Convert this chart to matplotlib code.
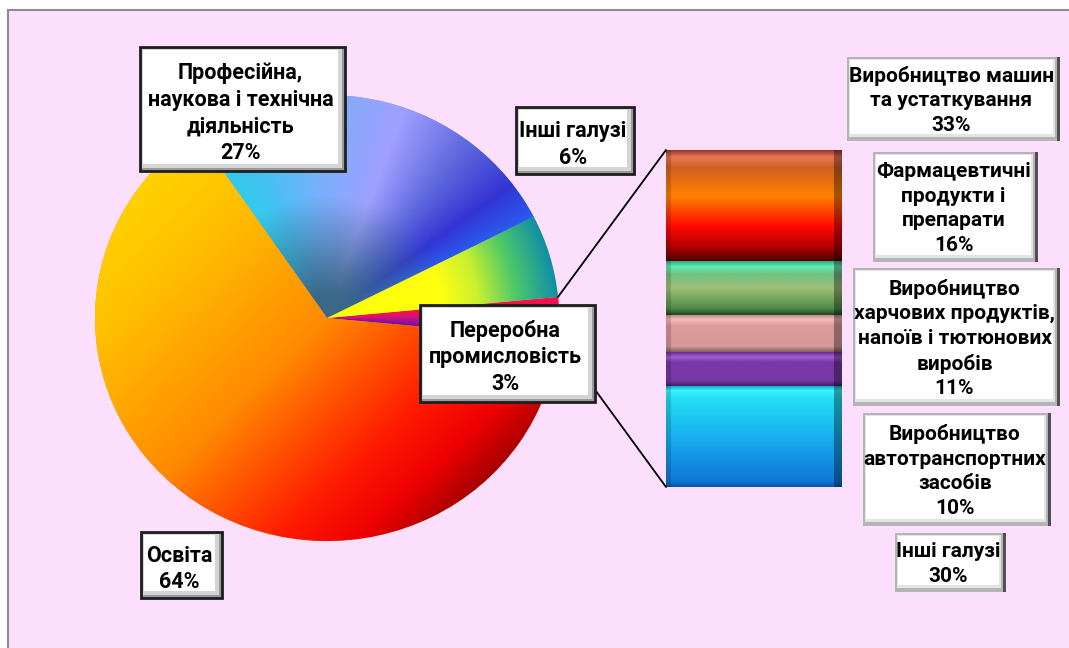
import numpy as np
import matplotlib
matplotlib.use("Agg")
import matplotlib.pyplot as plt
from matplotlib.colors import LinearSegmentedColormap, to_rgb
from matplotlib.patches import Rectangle, ConnectionPatch

plt.rcParams['font.family'] = ['Roboto', 'DejaVu Sans']

# ---------------- data ----------------
main_labels = ["Переробна\nпромисловість", "Інші галузі", "Професійна,\nнаукова і технічна\nдіяльність", "Освіта"]
main_values = [3, 6, 27, 64]

bar_labels = ["Інші галузі", "Виробництво\nавтотранспортних\nзасобів",
              "Виробництво\nхарчових продуктів,\nнапоїв і тютюнових\nвиробів",
              "Фармацевтичні\nпродукти і\nпрепарати", "Виробництво машин\nта устаткування"]
bar_values = [30, 10, 11, 16, 33]

W, H = 1069, 648
fig = plt.figure(figsize=(W / 100, H / 100), dpi=100)
fig.patch.set_facecolor("white")

# background frame
bg = fig.add_axes([0, 0, 1, 1], zorder=-1)
bg.set_xlim(0, W); bg.set_ylim(H, 0); bg.axis("off")
bg.add_patch(Rectangle((8, 10), W, H, facecolor="#FCDFFC", edgecolor="#8c8c8c", lw=1.5))


def pix_axes(x0, y0, x1, y1, z):
    return fig.add_axes([x0 / W, (H - y1) / H, (x1 - x0) / W, (y1 - y0) / H], zorder=z)


def shade(ax, patch, stops, tfunc, extent, zorder, dark=None):
    xs = np.linspace(extent[0], extent[1], 400)
    ys = np.linspace(extent[2], extent[3], 400)
    X, Y = np.meshgrid(xs, ys)
    T = np.clip(tfunc(X, Y), 0, 1)
    cmap = LinearSegmentedColormap.from_list("c", stops)
    rgb = cmap(T)[..., :3]
    if dark is not None:
        dcol, dfunc = dark
        m = np.clip(dfunc(X, Y), 0, 1)[..., None]
        rgb = rgb * m + np.array(to_rgb(dcol)) * (1 - m)
    im = ax.imshow(rgb, extent=extent, origin="lower", aspect="auto",
                   interpolation="bilinear", zorder=zorder)
    im.set_clip_path(patch)
    return im


# ---------------- pie ----------------
cx, cy, rx, ry = 327, 318, 232, 223
axp = pix_axes(cx - rx, cy - ry, cx + rx, cy + ry, 1)
start = -main_values[0] * 360 / sum(main_values) / 2
wedges, _ = axp.pie(main_values, startangle=start, counterclock=True, radius=1,
                    colors=["#C01090", "#C8F030", "#7A90F0", "#FF8A00"],
                    wedgeprops=dict(linewidth=0))
axp.set_aspect("auto")
axp.set_xlim(-1, 1); axp.set_ylim(-1, 1)
axp.axis("off")
ext = (-1, 1, -1, 1)


def ang(X, Y):
    return np.degrees(np.arctan2(Y, X))


def ang360(X, Y):
    return np.mod(np.degrees(np.arctan2(Y, X)), 360)


# other slice
w0 = wedges[0]
shade(axp, w0, [(0, "#FF1040"), (0.45, "#D01080"), (1, "#6E10A8")],
      lambda X, Y: (w0.theta2 - ang(X, Y)) / (w0.theta2 - w0.theta1), ext, 2)
# other industries
shade(axp, wedges[1], [(0, "#FFFF00"), (0.5, "#FFFF10"), (0.66, "#C8F030"), (0.82, "#50C868"), (1, "#1090A8")],
      lambda X, Y: np.hypot(X, Y), ext, 2)
# professional
w2 = wedges[2]
shade(axp, w2, [(0, "#30CCEC"), (0.12, "#48C0F4"), (0.32, "#78B0FC"), (0.55, "#A0A0FF"),
                (0.75, "#5C66DC"), (0.9, "#3434D4"), (1, "#2A5AEC")],
      lambda X, Y: (w2.theta2 - ang360(X, Y)) / (w2.theta2 - w2.theta1), ext, 2,
      dark=("#3A6888", lambda X, Y: (np.hypot(X, Y) - 0.1) / 0.45))
# education
shade(axp, wedges[3], [(0, "#FFD200"), (0.18, "#FFC000"), (0.5, "#FF8A00"), (0.78, "#FF1A00"),
                       (0.9, "#F00000"), (1, "#A80000")],
      lambda X, Y: ((X - Y) / np.sqrt(2) + 1) / 2, ext, 2)

# ---------------- bar ----------------
axb = pix_axes(666, 150, 842, 487, 1)
bar_stops = [
    [(0, "#0858A8"), (0.06, "#1078D8"), (0.5, "#18B0F0"), (0.85, "#22DCF2"), (0.95, "#38F4FF"), (1, "#1098C8")],
    [(0, "#402060"), (0.15, "#7838A8"), (0.7, "#7838A8"), (0.85, "#A060D0"), (1, "#6A2C98")],
    [(0, "#806060"), (0.15, "#D89898"), (0.7, "#DC9C9C"), (0.86, "#F4BCBC"), (1, "#B88080")],
    [(0, "#1E4A1E"), (0.12, "#508C48"), (0.5, "#A0C078"), (0.75, "#70C080"), (0.9, "#64ECB4"), (1, "#28B078")],
    [(0, "#500000"), (0.12, "#B00000"), (0.3, "#FF0800"), (0.58, "#FF8000"), (0.84, "#D06020"),
     (0.93, "#E87858"), (1, "#8C3020")],
]
bottoms = np.concatenate([[0], np.cumsum(bar_values)[:-1]])
bars = axb.bar([0.5] * len(bar_values), bar_values, width=1, bottom=bottoms,
               color="#888888", edgecolor="#301818", linewidth=0.8)
for b, v, bt, st in zip(bars, bar_values, bottoms, bar_stops):
    shade(axb, b, st, lambda X, Y, bt=bt, v=v: (Y - bt) / v, (0, 1, bt, bt + v), 2)
    axb.add_patch(Rectangle((0.955, bt), 0.045, v, facecolor="black", alpha=0.35, lw=0, zorder=3))
    axb.add_patch(Rectangle((0, bt), 0.03, v, facecolor="black", alpha=0.15, lw=0, zorder=3))
axb.set_xlim(0, 1); axb.set_ylim(0, sum(bar_values))
axb.axis("off")

# ---------------- connectors ----------------
for th, yb in [(w0.theta2, sum(bar_values)), (w0.theta1, 0)]:
    p = (np.cos(np.radians(th)), np.sin(np.radians(th)))
    con = ConnectionPatch(xyA=p, coordsA=axp.transData, xyB=(0, yb), coordsB=axb.transData,
                          color="black", lw=1.3, zorder=3)
    fig.add_artist(con)

# ---------------- labels ----------------
ov = fig.add_axes([0, 0, 1, 1], zorder=5)
ov.set_xlim(0, W); ov.set_ylim(H, 0); ov.axis("off")
ov.patch.set_alpha(0)


def label_box(x0, y0, x1, y1, text, dark=True, fs=16, ls=1.16, dy=0):
    w, h = x1 - x0, y1 - y0
    if dark:
        ov.add_patch(Rectangle((x0, y0), w, h, facecolor="#9a9a9a", edgecolor="#1e1e1e", lw=2))
        ov.add_patch(Rectangle((x0 + 2, y0 + 2), w - 5, h - 5, facecolor="#d4d4d4", lw=0))
        ov.add_patch(Rectangle((x0 + 3, y0 + 3), w - 10, h - 10, facecolor="white", lw=0))
    else:
        ov.add_patch(Rectangle((x0, y0), w, h, facecolor="#b4b4b4", lw=0))
        ov.add_patch(Rectangle((x1 - 3, y0), 3, h, facecolor="#505050", lw=0))
        ov.add_patch(Rectangle((x0 + 2, y0 + 2), w - 7, h - 6, facecolor="#e4e4e4", lw=0))
        ov.add_patch(Rectangle((x0 + 3, y0 + 3), w - 10, h - 10, facecolor="white", lw=0))
    ov.text((x0 + x1) / 2 - 2, (y0 + y1) / 2 + dy, text, ha="center", va="center",
            multialignment="center", fontsize=fs, fontweight="bold", color="black", linespacing=ls)


pct = lambda v: f"{v}%"
main_boxes = [(420, 305, 595, 402), (516, 107, 634, 174), (140, 47, 345, 171), (141, 532, 222, 598)]
for lab, v, bb in zip(main_labels, main_values, main_boxes):
    label_box(*bb, f"{lab}\n{pct(v)}", dark=True, fs=15.5, ls=1.26, dy=4)

bar_boxes = [(895, 533, 1006, 592), (863, 413, 1051, 526), (853, 268, 1060, 406),
             (873, 152, 1038, 262), (847, 57, 1060, 141)]
for lab, v, bb in zip(bar_labels, bar_values, bar_boxes):
    label_box(*bb, f"{lab}\n{pct(v)}", dark=False, fs=15, ls=1.36, dy=1.5)

fig.savefig("out.png", dpi=100, facecolor=fig.get_facecolor())
